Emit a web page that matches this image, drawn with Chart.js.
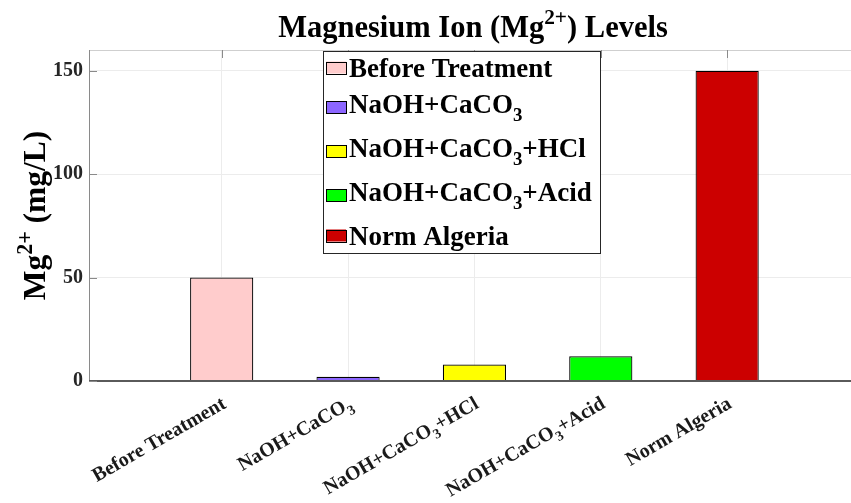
<!DOCTYPE html>
<html>
<head>
<meta charset="utf-8">
<script src="https://cdn.jsdelivr.net/npm/chart.js@4/dist/chart.umd.min.js"></script>
<style>
  html, body { margin: 0; padding: 0; background: #fff; }
  canvas { display: block; }
</style>
</head>
<body>
<canvas id="myGraph" width="851" height="503"></canvas>
<script>
// labels use _x for subscript and ^{..} for superscript
const categories = ['Before Treatment', 'NaOH+CaCO_3', 'NaOH+CaCO_3+HCl', 'NaOH+CaCO_3+Acid', 'Norm Algeria']
const values = [50, 2, 8, 12, 150]
const barColors = ['#FFCCCC', '#8C66FF', '#FFFF00', '#00FF00', '#CC0000']
const yTicks = [0, 50, 100, 150]
const titleText = 'Magnesium Ion (Mg^{2+}) Levels'
const yLabelText = 'Mg^{2+} (mg/L)'

const FONT = '"Liberation Serif", "Times New Roman", serif'

const parseRich = (str) => {
  const parts = []
  let i = 0
  let buf = ''
  while (i < str.length) {
    const c = str[i]
    if (c === '_' || c === '^') {
      if (buf) {
        parts.push({ t: buf, mode: '' })
        buf = ''
      }
      let t
      if (str[i + 1] === '{') {
        const j = str.indexOf('}', i)
        t = str.slice(i + 2, j)
        i = j + 1
      } else {
        t = str[i + 1]
        i += 2
      }
      parts.push({ t: t, mode: c === '_' ? 'sub' : 'sup' })
    } else {
      buf += c
      i++
    }
  }
  if (buf) parts.push({ t: buf, mode: '' })
  return parts
}

const setFont = (ctx, size) => {
  ctx.font = 'bold ' + size + 'px ' + FONT
}

const richWidth = (ctx, str, size) => {
  let w = 0
  parseRich(str).forEach((p) => {
    setFont(ctx, p.mode ? size * 0.7 : size)
    w += ctx.measureText(p.t).width
  })
  return w
}

// draws text with sub/superscripts, y is the baseline
const drawRich = (ctx, str, x, y, size, align) => {
  const total = richWidth(ctx, str, size)
  let cx = x
  if (align === 'right') cx = x - total
  else if (align === 'center') cx = x - total / 2
  ctx.textAlign = 'left'
  ctx.textBaseline = 'alphabetic'
  parseRich(str).forEach((p) => {
    const s = p.mode ? size * 0.7 : size
    setFont(ctx, s)
    let dy = 0
    if (p.mode === 'sub') dy = size * 0.3
    if (p.mode === 'sup') dy = -size * 0.42
    ctx.fillText(p.t, cx, y + dy)
    cx += ctx.measureText(p.t).width
  })
}

const decorations = {
  id: 'decorations',
  afterDraw(chart) {
    const ctx = chart.ctx
    const area = chart.chartArea
    const xs = chart.scales.x
    const ys = chart.scales.y
    ctx.save()

    // box lines
    ctx.lineWidth = 1
    ctx.strokeStyle = '#cfcfcf'
    ctx.beginPath()
    ctx.moveTo(area.left, area.top + 0.5)
    ctx.lineTo(area.right, area.top + 0.5)
    ctx.stroke()
    ctx.strokeStyle = '#8a8a8a'
    ctx.beginPath()
    ctx.moveTo(area.left + 0.5, area.top)
    ctx.lineTo(area.left + 0.5, area.bottom)
    ctx.stroke()
    ctx.lineWidth = 2
    ctx.strokeStyle = '#5a5a5a'
    ctx.beginPath()
    ctx.moveTo(area.left, area.bottom)
    ctx.lineTo(area.right, area.bottom)
    ctx.stroke()

    // inward tick marks
    ctx.lineWidth = 1
    ctx.strokeStyle = '#8a8a8a'
    ctx.beginPath()
    yTicks.forEach((v) => {
      const py = Math.round(ys.getPixelForValue(v)) + 0.5
      ctx.moveTo(area.left, py)
      ctx.lineTo(area.left + 8, py)
    })
    categories.forEach((c, i) => {
      const px = Math.round(xs.getPixelForValue(i + 1)) + 0.5
      ctx.moveTo(px, area.top)
      ctx.lineTo(px, area.top + 8)
    })
    ctx.stroke()

    ctx.fillStyle = '#1a1a1a'

    // x tick labels, rotated 30 degrees
    categories.forEach((c, i) => {
      const px = xs.getPixelForValue(i + 1)
      ctx.save()
      ctx.translate(px + 2, area.bottom + 20)
      ctx.rotate((-30 * Math.PI) / 180)
      drawRich(ctx, c, 0, 7, 20, 'right')
      ctx.restore()
    })

    // title
    ctx.fillStyle = '#000'
    drawRich(ctx, titleText, (area.left + area.right) / 2 + 3, 37, 30.5, 'center')

    // y label
    ctx.save()
    ctx.translate(45, (area.top + area.bottom) / 2)
    ctx.rotate(-Math.PI / 2)
    drawRich(ctx, yLabelText, 0, 0, 31.5, 'center')
    ctx.restore()

    // legend
    const lgSize = 27
    let maxW = 0
    categories.forEach((c) => {
      maxW = Math.max(maxW, richWidth(ctx, c, lgSize))
    })
    const lgLeft = 323.5
    const lgTop = 51.5
    const textX = 349
    const lgRight = Math.round(textX + maxW + 8) + 0.5
    const lgBottom = 253.5
    ctx.fillStyle = '#fff'
    ctx.fillRect(lgLeft, lgTop, lgRight - lgLeft, lgBottom - lgTop)
    ctx.strokeStyle = '#262626'
    ctx.lineWidth = 1
    ctx.strokeRect(lgLeft, lgTop, lgRight - lgLeft, lgBottom - lgTop)
    let rowTop = 55
    categories.forEach((c, i) => {
      const hasSub = c.indexOf('_') >= 0
      const base = rowTop + 22
      const sw = base - (hasSub ? 6 : 9.5)
      ctx.fillStyle = barColors[i]
      ctx.fillRect(326, sw - 6, 20, 12)
      ctx.strokeStyle = '#000'
      ctx.strokeRect(326.5, Math.round(sw - 6) + 0.5, 20, 12)
      ctx.fillStyle = '#000'
      drawRich(ctx, c, textX, base, lgSize, 'left')
      rowTop += hasSub ? 44 : 36
    })

    ctx.restore()
  },
}

const ctx = document.getElementById('myGraph').getContext('2d')
const graphInstance = new Chart(ctx, {
  type: 'bar',
  data: {
    datasets: [
      {
        data: values.map((v, i) => ({ x: i + 1, y: v })),
        backgroundColor: barColors,
        borderColor: '#000',
        borderWidth: 1.2,
        categoryPercentage: 1,
        barPercentage: 0.5,
      },
    ],
  },
  options: {
    responsive: false,
    animation: false,
    devicePixelRatio: 1,
    layout: { padding: { top: 50, right: 0, bottom: 0, left: 0 } },
    plugins: {
      legend: { display: false },
      title: { display: false },
      tooltip: { enabled: false },
    },
    scales: {
      x: {
        type: 'linear',
        offset: false,
        min: -0.05,
        max: 5.98,
        afterBuildTicks: (scale) => {
          scale.ticks = categories.map((c, i) => ({ value: i + 1 }))
        },
        afterFit: (scale) => {
          scale.height = 122
        },
        ticks: { display: false },
        grid: { color: '#ececec', drawTicks: false, offset: false },
        border: { display: false },
      },
      y: {
        min: 0,
        max: 160,
        afterBuildTicks: (scale) => {
          scale.ticks = yTicks.map((v) => ({ value: v }))
        },
        afterFit: (scale) => {
          scale.width = 89
        },
        ticks: {
          padding: 6,
          color: '#262626',
          font: { family: FONT, size: 20, weight: 'bold' },
        },
        grid: { color: '#ececec', drawTicks: false },
        border: { display: false },
      },
    },
  },
  plugins: [decorations],
})
</script>
</body>
</html>
